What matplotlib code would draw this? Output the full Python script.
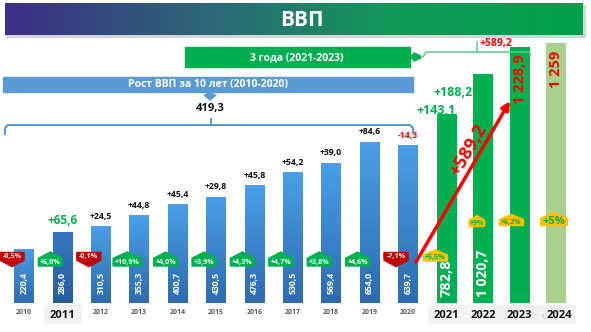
import numpy as np
import matplotlib
matplotlib.use("Agg")
import matplotlib.pyplot as plt
import matplotlib.transforms as mtransforms
from matplotlib.colors import LinearSegmentedColormap
from matplotlib.patches import Polygon, Rectangle

plt.rcParams['font.family'] = ['Open Sans', 'DejaVu Sans']

# ---- data ----
years_10 = ["2010", "2011", "2012", "2013", "2014", "2015", "2016", "2017", "2018", "2019", "2020"]
gdp_10 = [220.4, 286.0, 310.5, 355.3, 400.7, 430.5, 476.3, 530.5, 569.4, 654.0, 639.7]
delta_10 = [None, "+65,6", "+24,5", "+44,8", "+45,4", "+29,8", "+45,8", "+54,2", "+39,0", "+84,6", "-14,3"]
growth_10 = ["-0,5%", "+6,0%", "-0,1%", "+10,9%", "+4,0%", "+3,9%", "+4,3%", "+4,7%", "+3,8%", "+4,6%", "-7,1%"]

years_3 = ["2021", "2022", "2023", "2024"]
gdp_3 = [782.8, 1020.7, 1228.9, 1259.0]
gdp_3_labels = ["782,8", "1 020,7", "1 228,9", "1 259"]
delta_3 = ["+143,1", "+188,2"]
growth_3 = ["+5,5%", "+9%", "+6,2%", "+5%"]

total_10 = "419,3"
total_3 = "+589,2"

# ---- layout (pixels) ----
W, H = 591, 332
BASE = 303
blue_x = 24 + 38.4 * np.arange(len(gdp_10))
green_x = 446.5 + 36.5 * np.arange(len(gdp_3))

GREEN = "#00b050"
BLUE = "#5b9bd5"
RED = "#ff0000"
DARKRED = "#c00000"
YELLOW = "#ffc000"

fig = plt.figure(figsize=(W / 100, H / 100), dpi=100)
rect = [0, (H - BASE) / H, 1, BASE / H]
ax1 = fig.add_axes(rect)
ax2 = fig.add_axes(rect)
deco = fig.add_axes([0, 0, 1, 1])
for a in (ax1, ax2, deco):
    a.axis("off")

# ---- blue bars 2010-2020 (gradient) ----
cmap_blue = LinearSegmentedColormap.from_list("blue", ["#2d6bb0", "#4a9fe6"])
cmap_dark = LinearSegmentedColormap.from_list("dark", ["#285d9e", "#3478bf"])
bars = ax1.bar(blue_x, gdp_10, width=19.5, color="none", edgecolor="none")
grad = np.linspace(0, 1, 64).reshape(-1, 1)
for i, b in enumerate(bars):
    im = ax1.imshow(grad, extent=[b.get_x(), b.get_x() + b.get_width(), 0, b.get_height()],
                    origin="lower", cmap=cmap_dark if i == 1 else cmap_blue,
                    aspect="auto", zorder=2)
    im.set_clip_path(b)
ax1.set_xlim(0, W)
ax1.set_ylim(0, 1228)

for x, v in zip(blue_x, gdp_10):
    ax1.text(x, 80, f"{v:.1f}".replace(".", ","), rotation=90, ha="center", va="center",
             color="white", fontsize=6.2, fontweight="bold", zorder=3)

for x, v, d in zip(blue_x, gdp_10, delta_10):
    if d is None:
        continue
    if d == "+65,6":
        col, fs = GREEN, 8.5
    elif d.startswith("-"):
        col, fs = RED, 6.3
    else:
        col, fs = "#111111", 6.3
    ax1.annotate(d, (x, v), xytext=(0, 4), textcoords="offset points",
                 ha="center", va="bottom", color=col, fontsize=fs, fontweight="bold")

# ---- green bars 2021-2024 ----
ax2.set_yscale("log")
ax2.bar(green_x, gdp_3, width=20, color=[GREEN, GREEN, GREEN, "#a9d18e"])
ax2.set_xlim(0, W)
ax2.set_ylim(217, 1689)
bt = mtransforms.blended_transform_factory(ax2.transData, ax2.transAxes)
for x, lab, fs in zip(green_x[:2], gdp_3_labels[:2], [10.5, 10]):
    ax2.text(x, 0.02, lab, transform=bt, rotation=90, ha="center", va="bottom",
             color="white", fontsize=fs, fontweight="bold")
for x, v, lab in zip(green_x[2:], gdp_3[2:], gdp_3_labels[2:]):
    ax2.annotate(lab, (x, v), xytext=(0, -5), textcoords="offset points", rotation=90,
                 ha="center", va="top", color=RED, fontsize=10.5, fontweight="bold")

# ---- decorations in pixel space ----
deco.set_xlim(0, W)
deco.set_ylim(H, 0)

# title banner
deco.add_patch(Rectangle((7, 5), 578, 32, color="#d5d5d5", zorder=1))
cmap_title = LinearSegmentedColormap.from_list("title", ["#3b2e86", "#2f6478", "#12985a", "#00a04c"])
deco.imshow(np.linspace(0, 1, 256).reshape(1, -1), extent=[5, 583, 35, 3], cmap=cmap_title,
            aspect="auto", zorder=2)
deco.text(302, 20, "ВВП", color="white", fontsize=15, fontweight="bold", ha="center", va="center", zorder=3)

# 3 years box + bracket
deco.add_patch(Rectangle((185, 47), 225, 20, color=GREEN))
deco.text(297, 57.5, "3 года (2021-2023)", color="white", fontsize=7.5, fontweight="bold",
          ha="center", va="center")
deco.annotate("", xy=(424, 57), xytext=(408, 57),
              arrowprops=dict(arrowstyle="-|>", color=GREEN, lw=3, mutation_scale=9,
                              shrinkA=0, shrinkB=0))
deco.plot([423, 426, 528, 530, 530], [57, 52, 52, 52.5, 55], color="#5ec98a", lw=1.1)
deco.plot([477, 477], [52, 42], color="#5ec98a", lw=1.1)
deco.text(480, 43.5, total_3, color=RED, fontsize=7.5, fontweight="bold", ha="left", va="center")

# 10 years box + bracket
deco.add_patch(Rectangle((3, 77), 410, 15, color=BLUE))
deco.text(208, 84.5, "Рост ВВП за 10 лет (2010-2020)", color="white", fontsize=7.5,
          fontweight="bold", ha="center", va="center")
deco.add_patch(Polygon([(207, 92), (213, 92), (213, 95), (216, 95), (210, 100), (204, 95), (207, 95)],
                       closed=True, color=BLUE))
deco.text(210, 108, total_10, color="#111111", fontsize=8, fontweight="bold", ha="center", va="center")
deco.plot([5, 5, 8, 410, 413, 413], [134, 128, 125, 125, 128, 133], color=BLUE, lw=1.5)
deco.plot([211, 211], [125, 119], color=BLUE, lw=1.5)


def tag(cx, cy, w, h, up, face, text, tcolor, fs):
    a = h * 0.45
    if up:
        pts = [(cx - w / 2, cy + h / 2), (cx + w / 2, cy + h / 2), (cx + w / 2, cy - h / 2 + a),
               (cx, cy - h / 2), (cx - w / 2, cy - h / 2 + a)]
        ty = cy + a / 2
    else:
        pts = [(cx - w / 2, cy - h / 2), (cx + w / 2, cy - h / 2), (cx + w / 2, cy + h / 2 - a),
               (cx, cy + h / 2), (cx - w / 2, cy + h / 2 - a)]
        ty = cy - a / 2
    deco.add_patch(Polygon(pts, closed=True, color=face, zorder=4))
    deco.text(cx, ty, text, color=tcolor, fontsize=fs, fontweight="bold",
              ha="center", va="center", zorder=5)


for x, g in zip(blue_x, growth_10):
    neg = g.startswith("-")
    tag(x - 12, 259 if not neg else 259.5, len(g) * 4.2 + 3, 14, not neg,
        DARKRED if neg else GREEN, g, "white", 5.1)

g3_dx = [-11, -6, -8, -2]
g3_y = [255.5, 221, 220, 219]
for x, dx, y, g in zip(green_x, g3_dx, g3_y, growth_3):
    big = g == "+5%"
    tag(x + dx, y, 27 if big else len(g) * 4.2 + 3, 13 if big else 11, True, YELLOW, g,
        GREEN, 8 if big else 5.1)

# green deltas
deco.text(green_x[0] - 10, 110, delta_3[0], color=GREEN, fontsize=9, fontweight="bold",
          ha="center", va="center")
deco.text(green_x[1] - 30, 92, delta_3[1], color=GREEN, fontsize=9, fontweight="bold",
          ha="center", va="center")

# red growth arrow
deco.annotate("", xy=(510, 101), xytext=(416, 262),
              arrowprops=dict(arrowstyle="-|>", color=RED, lw=2.5, mutation_scale=12,
                              shrinkA=0, shrinkB=0), zorder=6)
deco.text(468, 150, total_3, color=RED, fontsize=13, fontweight="bold", rotation=59.7,
          rotation_mode="anchor", ha="center", va="center", zorder=6)

# year labels
for x, y in zip(blue_x, years_10):
    if y == "2011":
        continue
    deco.text(x, 313, y, color="#595959", fontsize=5, fontweight="bold", ha="center", va="center")
for x, y in [(blue_x[1], "2011")] + list(zip(green_x, years_3)):
    deco.add_patch(Rectangle((x - 18.5, 305), 37, 18, color="#f2f2f2", zorder=1))
    shift = 3 if y == "2024" else 0
    deco.text(x + shift, 316, y, color="#111111", fontsize=8, fontweight="bold", ha="center",
              va="center", zorder=2)
deco.text(green_x[3] - 14, 316.5, "1", color="#a0a0a0", fontsize=4.5, ha="center", va="center", zorder=2)

deco.set_xlim(0, W)
deco.set_ylim(H, 0)

fig.savefig("out.png", dpi=100)
